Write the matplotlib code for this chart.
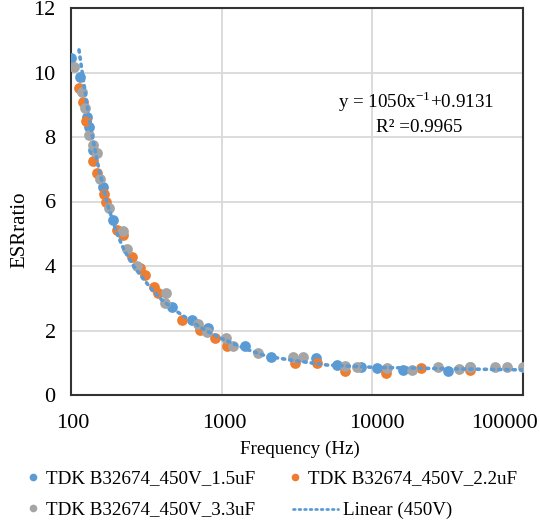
import matplotlib.pyplot as plt
from matplotlib.lines import Line2D

plt.rcParams['font.family'] = ['Liberation Serif', 'DejaVu Serif']

# TDK B32674_450V_1.5uF
f_15 = [100, 115, 127, 132, 139, 164, 189, 465, 632, 815, 1430, 2115, 4250, 5850, 8470,
        10660, 16040, 31700, 44800]
v_15 = [10.45, 9.85, 8.63, 8.3, 7.6, 6.46, 5.44, 2.74, 2.33, 2.08, 1.53, 1.19, 1.16, 0.93, 0.88,
        0.83, 0.79, 0.74, 0.88]

# TDK B32674_450V_2.2uF
f_22 = [113, 121, 126, 141, 148, 165, 172, 203, 222, 255, 288, 311, 355, 379, 542, 718, 900,
        1093, 3060, 4310, 6550, 12300, 20900, 44800]
v_22 = [9.51, 9.1, 8.5, 7.26, 6.87, 6.23, 6.0, 5.12, 4.95, 4.29, 3.95, 3.72, 3.34, 3.15, 2.33,
        2.02, 1.76, 1.52, 0.98, 0.98, 0.74, 0.67, 0.83, 0.78]

# TDK B32674_450V_3.3uF
f_33 = [105, 119, 124, 132, 139, 149, 156, 178, 222, 236, 273, 425, 421, 700, 800, 1075, 1190,
        1750, 2990, 3480, 6600, 7940, 12550, 18300, 27400, 37800, 44800, 65400, 78500, 99500]
v_33 = [10.18, 9.4, 8.89, 8.06, 7.75, 7.49, 6.71, 5.79, 5.1, 4.52, 4.0, 3.15, 2.84, 2.2, 1.96,
        1.78, 1.52, 1.31, 1.17, 1.17, 0.9, 0.88, 0.83, 0.78, 0.88, 0.8, 0.86, 0.88, 0.88, 0.88]

# trend line (450V)
f_tr = [113, 117, 125, 135, 150, 175, 200, 225, 260, 300, 340, 400, 500, 600, 750, 1000,
        1500, 2000, 3000, 5000, 10000, 20000, 50000, 100000]
v_tr = [10.7, 10.2, 9.3, 8.3, 7.2, 5.9, 5.05, 4.5, 4.0, 3.62, 3.3, 2.95, 2.6, 2.35, 2.05, 1.75,
        1.4, 1.2, 1.07, 0.93, 0.86, 0.83, 0.8, 0.78]

x_ticks = [100, 1000, 10000, 100000]
x_labels = ['100', '1000', '10000', '100000']
series_names = ['TDK B32674_450V_1.5uF', 'TDK B32674_450V_2.2uF',
                'TDK B32674_450V_3.3uF', 'Linear (450V)']

blue = '#5B9BD5'
orange = '#ED7D31'
gray = '#A5A5A5'
dots = (0, (0.6, 1.4))
W, H = 540, 523

fig = plt.figure(figsize=(5.4, 5.23), dpi=100)
ax = fig.add_axes([71 / W, 1 - 395 / H, 452 / W, 387 / H])

ax.scatter(f_15, v_15, s=60, color=blue, zorder=3, linewidths=0)
ax.scatter(f_22, v_22, s=60, color=orange, zorder=3, linewidths=0)
ax.scatter(f_33, v_33, s=60, color=gray, zorder=3, linewidths=0)
ax.plot(f_tr, v_tr, color=blue, lw=2.6, linestyle=dots, dash_capstyle='round', zorder=4)

ax.set_xscale('log')
ax.set_xlim(100, 100000)
ax.set_ylim(0, 12)
ax.set_yticks(range(0, 13, 2))
ax.set_xticks(x_ticks)
ax.set_xticklabels([])
ax.minorticks_off()
ax.grid(True, color='#d9d9d9', lw=1.3)
ax.set_axisbelow(True)
for sp in ax.spines.values():
    sp.set_color('#333333')
    sp.set_linewidth(1.5)
ax.tick_params(length=0, labelsize=16, pad=11, colors='black')

# x tick labels drawn by hand so the last one can sit inside the figure
nudges = [2, 3, 5, -19]  # pixels
for t, lab, dx in zip(x_ticks, x_labels, nudges):
    ax.annotate(lab, xy=(t, 0), xycoords=('data', 'axes fraction'),
                xytext=(dx * 0.72, -28 * 0.72), textcoords='offset points',
                fontsize=16, ha='center', va='center', annotation_clip=False)

fig.text(20 / W, 1 - 230 / H, 'ESRratio', rotation=90, fontsize=15, ha='center', va='center')
fig.text(300 / W, 1 - 449 / H, 'Frequency (Hz)', fontsize=13.7, ha='center', va='center')

ax.text(19600, 9.09, 'y = 1050x$^{\\mathregular{-1}}$+0.9131', fontsize=13.7,
        ha='center', va='center')
ax.text(20400, 8.28, 'R² =0.9965', fontsize=13.7, ha='center', va='center')

# legend, laid out by hand as in the original
def px(x, y):
    return x / W, 1 - y / H

rows = [(479, [(33, blue, series_names[0]), (295, orange, series_names[1])]),
        (510, [(33, gray, series_names[2])])]
for y, entries in rows:
    for x, c, name in entries:
        fig.add_artist(Line2D([x / W], [1 - (y - 2) / H], transform=fig.transFigure,
                              marker='o', ms=5.5, color=c, mew=0, ls='none'))
        fig.text(*px(x + 13, y), name, fontsize=13.7, ha='left', va='center')
fig.add_artist(Line2D([293 / W, 338 / W], [1 - 509 / H] * 2, transform=fig.transFigure,
                      color=blue, lw=2, linestyle=dots, dash_capstyle='round'))
fig.text(*px(343, 510), series_names[3], fontsize=13.7, ha='left', va='center')

fig.savefig('out.png', dpi=100)
